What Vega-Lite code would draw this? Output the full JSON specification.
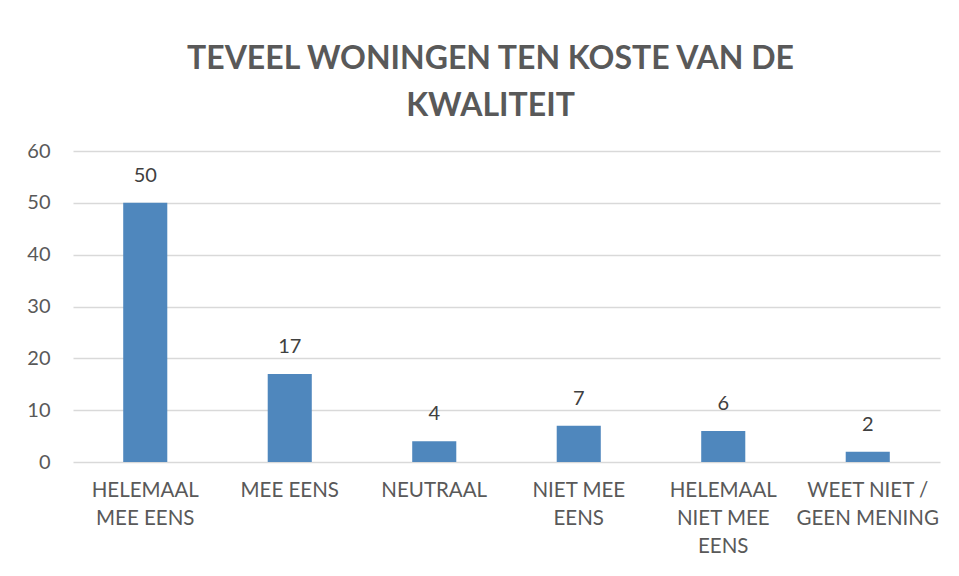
{
  "$schema": "https://vega.github.io/schema/vega-lite/v6.json",
  "width": 867,
  "height": 311,
  "autosize": "none",
  "padding": {"left": 73, "top": 151, "right": 19, "bottom": 114},
  "background": "white",
  "title": {
    "text": ["TEVEEL WONINGEN TEN KOSTE VAN DE", "KWALITEIT"],
    "anchor": "middle",
    "frame": "group",
    "dx": -16,
    "offset": 18,
    "font": "Lato",
    "fontSize": 32,
    "fontWeight": "bold",
    "color": "#595959",
    "lineHeight": 47
  },
  "data": {
    "values": [
      {"antwoord": "HELEMAAL MEE EENS", "aantal": 50},
      {"antwoord": "MEE EENS", "aantal": 17},
      {"antwoord": "NEUTRAAL", "aantal": 4},
      {"antwoord": "NIET MEE EENS", "aantal": 7},
      {"antwoord": "HELEMAAL NIET MEE EENS", "aantal": 6},
      {"antwoord": "WEET NIET / GEEN MENING", "aantal": 2}
    ]
  },
  "encoding": {
    "x": {
      "field": "antwoord",
      "type": "nominal",
      "sort": null,
      "scale": {"paddingInner": 0.695, "paddingOuter": 0.3475},
      "axis": {
        "title": null,
        "labelAngle": 0,
        "domain": false,
        "ticks": false,
        "labelPadding": 18,
        "labelFont": "Lato",
        "labelFontSize": 20.5,
        "labelColor": "#595959",
        "labelLineHeight": 28,
        "labelExpr": "datum.label == 'HELEMAAL MEE EENS' ? ['HELEMAAL', 'MEE EENS'] : datum.label == 'NIET MEE EENS' ? ['NIET MEE', 'EENS'] : datum.label == 'HELEMAAL NIET MEE EENS' ? ['HELEMAAL', 'NIET MEE', 'EENS'] : datum.label == 'WEET NIET / GEEN MENING' ? ['WEET NIET /', 'GEEN MENING'] : datum.label"
      }
    },
    "y": {
      "field": "aantal",
      "type": "quantitative",
      "scale": {"domain": [0, 60]},
      "axis": {
        "title": null,
        "values": [0, 10, 20, 30, 40, 50, 60],
        "domain": false,
        "ticks": false,
        "labelPadding": 23,
        "labelFont": "Lato",
        "labelFontSize": 20,
        "labelColor": "#595959",
        "gridColor": "#d9d9d9",
        "gridWidth": 1.3
      }
    }
  },
  "layer": [
    {"mark": {"type": "bar", "color": "#4F87BD"}},
    {
      "mark": {"type": "text", "baseline": "bottom", "dy": -17, "font": "Lato", "fontSize": 20, "color": "#404040"},
      "encoding": {"text": {"field": "aantal", "type": "quantitative"}}
    }
  ],
  "config": {"view": {"stroke": null}}
}
